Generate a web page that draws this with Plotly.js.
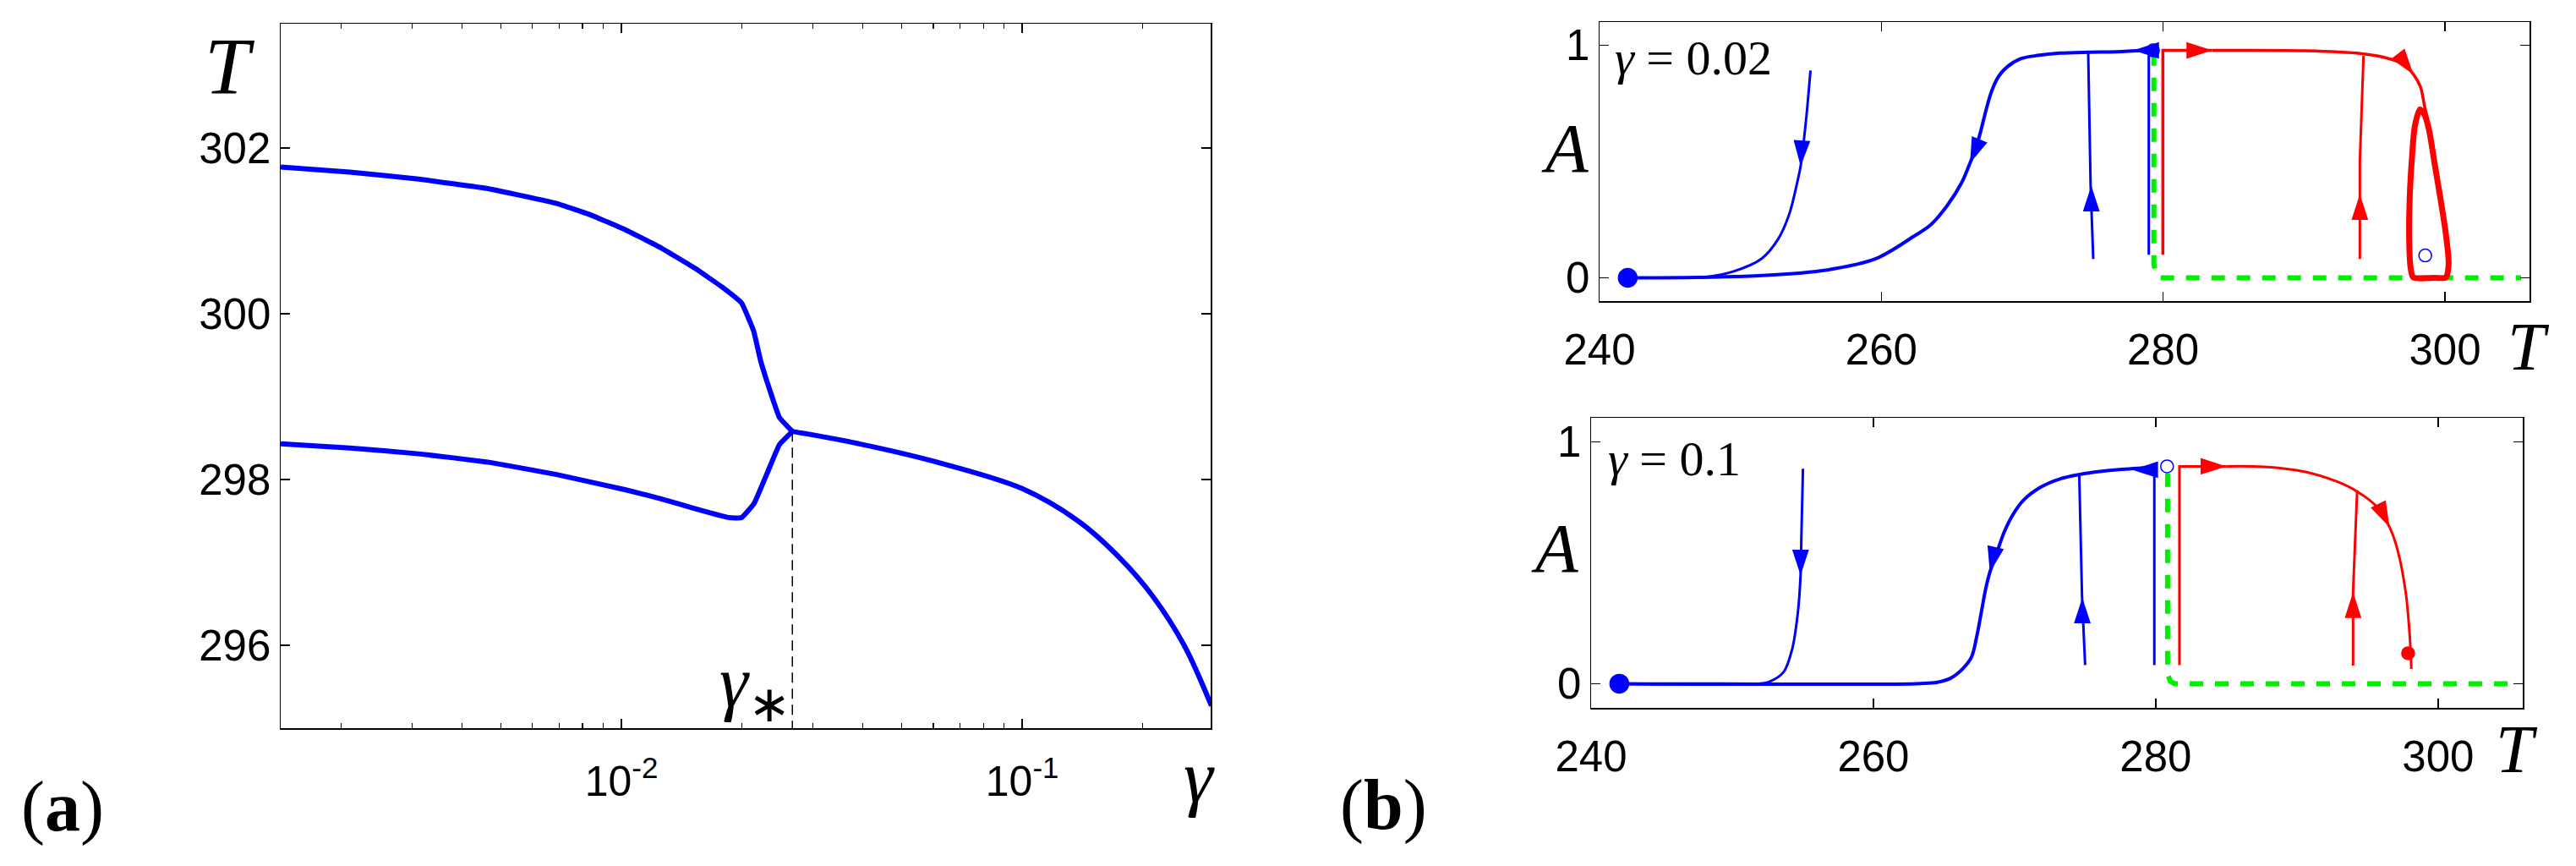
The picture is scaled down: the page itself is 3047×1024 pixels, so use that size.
<!DOCTYPE html>
<html>
<head>
<meta charset="utf-8">
<script src="https://cdn.plot.ly/plotly-3.0.1.min.js"></script>
<style>
  body { margin: 0; background: #fff; }
  #fig { width: 3047px; height: 1024px; }
</style>
</head>
<body>
<div id="fig"></div>
<script>
// ---- panel (a): bifurcation branches T(gamma) ----
var gammaUpper = [0.001413, 0.0021, 0.00312, 0.004645, 0.006895, 0.008405, 0.01026, 0.0125, 0.01524, 0.01786,
                  0.01994, 0.02138, 0.02223, 0.02312, 0.02478, 0.0267];
var tempUpper  = [301.77, 301.71, 301.625, 301.51, 301.33, 301.19, 301.01, 300.80, 300.55, 300.32,
                  300.13, 299.79, 299.44, 299.17, 298.75, 298.58];
var gammaLower = [0.001413, 0.0021, 0.00312, 0.004645, 0.006895, 0.01026, 0.0125, 0.01524, 0.01858, 0.01994,
                  0.02143, 0.02312, 0.02478, 0.0267];
var tempLower  = [298.43, 298.38, 298.31, 298.21, 298.06, 297.875, 297.77, 297.65, 297.54, 297.54,
                  297.71, 298.08, 298.42, 298.58];
var gammaRight = [0.0267, 0.0375, 0.06012, 0.1, 0.1387, 0.1754, 0.2118, 0.2541, 0.2965];
var tempRight  = [298.58, 298.45, 298.22, 297.89, 297.49, 297.05, 296.59, 295.99, 295.27];
var gammaStar = 0.0267;
var gammaStarT = [298.58, 295.0];
var gammaTickVals = [0.01, 0.1];
var gammaTickText = ['10<sup>-2</sup>', '10<sup>-1</sup>'];
var gammaMinor = [0.002, 0.003, 0.004, 0.005, 0.006, 0.007, 0.008, 0.009,
                  0.02, 0.03, 0.04, 0.05, 0.06, 0.07, 0.08, 0.09, 0.2, 0.3];

// ---- panel (b) top: gamma = 0.02 ----
var g1StableT = [242.0], g1StableA = [0];
var g1FallT = [254.97, 254.67, 254.27, 254.07, 253.47, 252.67, 251.47, 249.47, 247.47, 245.5, 242.0];
var g1FallA = [0.891, 0.687, 0.48, 0.421, 0.275, 0.166, 0.081, 0.027, 0.003, 0.0, 0.0];
var g1SCurveT = [278.78, 276.68, 274.68, 272.69, 271.09, 269.89, 268.89, 268.29, 267.79, 267.39, 267.09, 266.69, 266.29,
                 265.69, 264.69, 263.49, 262.29, 259.60, 256.16, 251.58, 246.99, 242.0];
var g1SCurveA = [0.978, 0.972, 0.970, 0.966, 0.956, 0.942, 0.905, 0.863, 0.796, 0.712, 0.639, 0.554, 0.493,
                 0.408, 0.312, 0.227, 0.178, 0.082, 0.034, 0.010, 0.002, 0.0];
var g1RiseT = [275.04, 274.85, 274.68];
var g1RiseA = [0.081, 0.40, 0.970];
var g1EdgeT = [278.98, 278.98, 278.78];
var g1EdgeA = [0.099, 0.978, 0.978];
var g1RedUpT = [279.98, 279.98, 283.48];
var g1RedUpA = [0.099, 0.978, 0.978];
var g1RedT = [283.48, 285.27, 290.07, 294.06, 295.66, 297.06, 297.76, 298.26, 298.56, 298.76];
var g1RedA = [0.978, 0.978, 0.976, 0.964, 0.948, 0.918, 0.875, 0.821, 0.736, 0.687];
var g1RedRiseT = [293.96, 293.96, 294.22];
var g1RedRiseA = [0.081, 0.50, 0.954];
var g1CycleT = [298.22, 297.86, 297.66, 297.50, 297.46, 297.56, 297.76, 299.26, 300.06, 300.26, 300.06, 299.66, 299.26, 298.86, 298.56, 298.22];
var g1CycleA = [0.724, 0.651, 0.518, 0.348, 0.166, 0.045, 0.002, 0.0, 0.002, 0.057, 0.19, 0.348, 0.493, 0.639, 0.70, 0.724];
var g1OpenT = [279.28, 298.6];
var g1OpenA = [0.978, 0.096];
var g1GreenT = [279.34, 279.34, 279.48, 279.78, 305.4];
var g1GreenA = [0.97, 0.06, 0.015, 0.0, 0.0];
var g1BlueArrowT = [254.27, 266.29, 274.9, 277.88];
var g1BlueArrowA = [0.48, 0.493, 0.396, 0.978];
var g1BlueArrowDir = [183, 202, 0, 270];
var g1RedArrowT = [283.48, 293.96, 297.76];
var g1RedArrowA = [0.978, 0.36, 0.875];
var g1RedArrowDir = [90, 0, 143];

// ---- panel (b) bottom: gamma = 0.1 ----
var g2StableT = [242.0], g2StableA = [0];
var g2FallT = [255.01, 254.90, 254.84, 254.65, 254.25, 253.65, 252.63, 251.9, 242.0];
var g2FallA = [0.889, 0.613, 0.448, 0.295, 0.144, 0.049, 0.008, 0.0, 0.0];
var g2SCurveT = [279.84, 277.24, 276.04, 274.64, 273.25, 271.85, 270.65, 269.85, 269.25, 268.75, 268.25, 267.95,
                 267.65, 267.35, 266.95, 266.35, 265.45, 264.45, 263.05, 242.0];
var g2SCurveA = [0.896, 0.885, 0.878, 0.866, 0.848, 0.813, 0.760, 0.696, 0.625, 0.543, 0.461, 0.391,
                 0.297, 0.204, 0.110, 0.063, 0.022, 0.005, 0.0, 0.0];
var g2RiseT = [275.0, 274.78, 274.58];
var g2RiseA = [0.077, 0.36, 0.869];
var g2EdgeT = [279.90, 279.90];
var g2EdgeA = [0.077, 0.899];
var g2RedUpT = [281.68, 281.68, 285.0];
var g2RedUpA = [0.077, 0.899, 0.899];
var g2RedT = [285.0, 287.68, 290.54, 292.84, 294.27, 295.70, 296.56, 297.13, 297.71, 297.99, 298.11];
var g2RedA = [0.899, 0.897, 0.877, 0.836, 0.795, 0.730, 0.648, 0.554, 0.378, 0.202, 0.061];
var g2RedRiseT = [293.98, 293.98, 294.27];
var g2RedRiseA = [0.075, 0.378, 0.80];
var g2OpenT = [280.80];
var g2OpenA = [0.899];
var g2RedDotT = [297.88];
var g2RedDotA = [0.126];
var g2GreenT = [280.84, 280.84, 281.04, 281.34, 305.4];
var g2GreenA = [0.87, 0.04, 0.01, 0.0, 0.0];
var g2BlueArrowT = [254.84, 268.25, 274.8, 278.34];
var g2BlueArrowA = [0.448, 0.461, 0.356, 0.885];
var g2BlueArrowDir = [180, 193, 0, 270];
var g2RedArrowT = [285.0, 293.98, 296.56];
var g2RedArrowA = [0.899, 0.378, 0.648];
var g2RedArrowDir = [90, 0, 154];

var tempTicks = [240, 260, 280, 300];

var BLUE = '#0000ff', RED = '#ff0000', GREEN = '#00ee00';

function line(x, y, xa, ya, color, width, dash, smooth) {
  var ln = {color: color, width: width, dash: dash || 'solid'};
  if (smooth) { ln.shape = 'spline'; ln.smoothing = smooth; }
  return {x: x, y: y, xaxis: xa, yaxis: ya, type: 'scatter', mode: 'lines', line: ln, hoverinfo: 'skip'};
}
function arrows(x, y, dir, xa, ya, color) {
  return {x: x, y: y, xaxis: xa, yaxis: ya, type: 'scatter', mode: 'markers',
          marker: {symbol: 'arrow', size: 32, angle: dir, color: color, line: {width: 0}}, hoverinfo: 'skip'};
}
function dots(x, y, xa, ya, symbol, size, color) {
  return {x: x, y: y, xaxis: xa, yaxis: ya, type: 'scatter', mode: 'markers',
          marker: {symbol: symbol, size: size, color: color, line: {color: color, width: 1.5}}, hoverinfo: 'skip'};
}

var traces = [
  line(gammaUpper, tempUpper, 'x', 'y', BLUE, 6, null, 0.3),
  line(gammaLower, tempLower, 'x', 'y', BLUE, 6, null, 0.3),
  line(gammaRight, tempRight, 'x', 'y', BLUE, 6, null, 0.9),
  line([gammaStar, gammaStar], gammaStarT, 'x', 'y', '#000', 1.5, '12px,7px'),

  line(g1GreenT, g1GreenA, 'x2', 'y2', GREEN, 6, '16px,14px'),
  line(g1FallT, g1FallA, 'x2', 'y2', BLUE, 3, null, 0.9),
  line(g1SCurveT, g1SCurveA, 'x2', 'y2', BLUE, 4, null, 0.9),
  line(g1RiseT, g1RiseA, 'x2', 'y2', BLUE, 3),
  line(g1EdgeT, g1EdgeA, 'x2', 'y2', BLUE, 3),
  line(g1RedUpT, g1RedUpA, 'x2', 'y2', RED, 3.5),
  line(g1RedT, g1RedA, 'x2', 'y2', RED, 3.5, null, 0.9),
  line(g1RedRiseT, g1RedRiseA, 'x2', 'y2', RED, 3),
  line(g1CycleT, g1CycleA, 'x2', 'y2', RED, 7, null, 0.8),
  arrows(g1BlueArrowT, g1BlueArrowA, g1BlueArrowDir, 'x2', 'y2', BLUE),
  arrows(g1RedArrowT, g1RedArrowA, g1RedArrowDir, 'x2', 'y2', RED),
  dots(g1StableT, g1StableA, 'x2', 'y2', 'circle', 22, BLUE),
  dots(g1OpenT, g1OpenA, 'x2', 'y2', 'circle-open', 15, BLUE),

  line(g2GreenT, g2GreenA, 'x3', 'y3', GREEN, 6, '16px,14px'),
  line(g2FallT, g2FallA, 'x3', 'y3', BLUE, 3, null, 0.9),
  line(g2SCurveT, g2SCurveA, 'x3', 'y3', BLUE, 4, null, 0.9),
  line(g2RiseT, g2RiseA, 'x3', 'y3', BLUE, 3),
  line(g2EdgeT, g2EdgeA, 'x3', 'y3', BLUE, 3),
  line(g2RedUpT, g2RedUpA, 'x3', 'y3', RED, 3),
  line(g2RedT, g2RedA, 'x3', 'y3', RED, 3, null, 0.9),
  line(g2RedRiseT, g2RedRiseA, 'x3', 'y3', RED, 3),
  arrows(g2BlueArrowT, g2BlueArrowA, g2BlueArrowDir, 'x3', 'y3', BLUE),
  arrows(g2RedArrowT, g2RedArrowA, g2RedArrowDir, 'x3', 'y3', RED),
  dots(g2StableT, g2StableA, 'x3', 'y3', 'circle', 22, BLUE),
  dots(g2OpenT, g2OpenA, 'x3', 'y3', 'circle-open', 15, BLUE),
  dots(g2RedDotT, g2RedDotA, 'x3', 'y3', 'circle', 15, RED)
];

var tickFont = {family: 'Liberation Sans, Arial, sans-serif', size: 51, color: '#000'};
var serif = 'Liberation Serif, Times New Roman, serif';

function axisBase(extra) {
  var a = {showline: true, linecolor: '#000', linewidth: 1.5, mirror: 'allticks',
           ticks: 'inside', ticklen: 11, tickwidth: 1.5, tickcolor: '#000',
           showgrid: false, zeroline: false, tickfont: tickFont, fixedrange: true};
  for (var k in extra) a[k] = extra[k];
  return a;
}

function note(text, x, y, size, xanchor) {
  return {text: text, xref: 'paper', yref: 'paper', x: x / 3047, y: 1 - y / 1024,
          xanchor: xanchor || 'center', yanchor: 'middle', showarrow: false,
          font: {family: serif, size: size, color: '#000'}};
}

var layout = {
  width: 3047, height: 1024,
  margin: {l: 0, r: 0, t: 0, b: 0},
  paper_bgcolor: '#fff', plot_bgcolor: '#fff',
  showlegend: false,
  xaxis: axisBase({type: 'log', domain: [332 / 3047, 1432 / 3047], range: [-2.85, -0.53],
                   tickmode: 'array', tickvals: gammaTickVals, ticktext: gammaTickText,
                   tickfont: {family: tickFont.family, size: 50, color: '#000'}, ticklabelstandoff: 18,
                   minor: {tickmode: 'array', tickvals: gammaMinor, ticks: 'inside', ticklen: 6,
                           tickwidth: 1.2, tickcolor: '#000'},
                   anchor: 'y'}),
  yaxis: axisBase({domain: [1 - 861 / 1024, 1 - 28 / 1024], range: [295, 303.5],
                   tickvals: [296, 298, 300, 302], anchor: 'x'}),
  xaxis2: axisBase({domain: [1892 / 3047, 2992 / 3047], range: [240, 306], tickvals: tempTicks,
                    ticklabelstandoff: 12, anchor: 'y2'}),
  yaxis2: axisBase({domain: [1 - 356 / 1024, 1 - 26 / 1024], range: [-0.1, 1.1], tickvals: [0, 1], anchor: 'x2'}),
  xaxis3: axisBase({domain: [1882 / 3047, 2984 / 3047], range: [240, 306], tickvals: tempTicks,
                    ticklabelstandoff: 12, anchor: 'y3'}),
  yaxis3: axisBase({domain: [1 - 837 / 1024, 1 - 494 / 1024], range: [-0.1, 1.1], tickvals: [0, 1], anchor: 'x3'}),
  annotations: [
    note('<i>T</i>', 272, 78, 96),
    note('<i>γ</i>', 1418, 918, 88),
    note('<i>γ</i><sub>∗</sub>', 893, 812, 86),
    note('(<b>a</b>)', 74, 954, 84),
    note('(<b>b</b>)', 1636, 952, 84),
    note('<i>A</i>', 1851, 175, 83),
    note('<i>A</i>', 1839, 648, 83),
    note('<i>γ</i> = 0.02', 1908, 68, 58, 'left'),
    note('<i>γ</i> = 0.1', 1900, 542, 58, 'left'),
    note('<i>T</i>', 2991, 410, 80),
    note('<i>T</i>', 2977, 886, 80)
  ]
};

Plotly.newPlot('fig', traces, layout, {displaylogo: false, displayModeBar: false, staticPlot: true});
</script>
</body>
</html>
